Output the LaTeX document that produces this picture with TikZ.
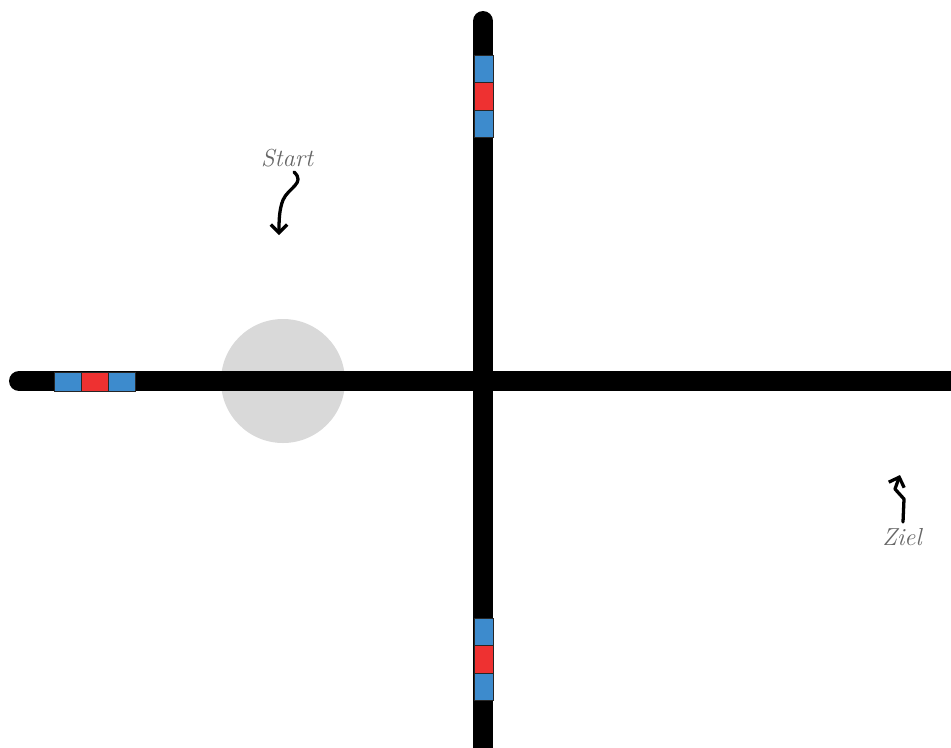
\documentclass[tikz,border=0pt]{standalone}
\usetikzlibrary{arrows.meta}
\definecolor{signalblue}{HTML}{3D8BCD}
\definecolor{signalred}{HTML}{EE3131}
\definecolor{spotgray}{HTML}{D9D9D9}
\tikzset{
	road/.style={line width=0.6cm, line cap=round},
	signalbox/.style={draw=black!85, line width=0.6pt},
	hint/.style={font=\fontsize{21}{23}\selectfont\itshape, text=black!60, inner sep=1pt},
	hintarrow/.style={line width=2.8pt, line cap=round, line join=round, -{Straight Barb[length=7pt,width=14pt]}}
}
\begin{document}
\begin{tikzpicture}[x=0.03cm, y=-0.03cm]
	\useasboundingbox (0,0) rectangle (951,747);
	\fill[spotgray] (283,381) circle(62);
	\begin{scope}
		\clip (0,0) rectangle (951,747);
		\draw[road] (19,381)--(965,381);
		\draw[road] (483,21)--(483,760);
	\end{scope}
	% signals on the roads
	\foreach \x/\c in {54/signalblue, 81/signalred, 108/signalblue}
		\draw[signalbox, fill=\c] (\x,372) rectangle ++(27.5,19);
	\foreach \y/\c in {55/signalblue, 82.5/signalred, 110/signalblue}
		\draw[signalbox, fill=\c] (474,\y) rectangle ++(19,27.5);
	\foreach \y/\c in {618/signalblue, 645.5/signalred, 673/signalblue}
		\draw[signalbox, fill=\c] (474,\y) rectangle ++(19,27.5);
	% labels
	\node[hint] (start) at (287,158) {Start};
	\node[hint] (ziel) at (902,537) {Ziel};
	\coordinate (startend) at (279,235);
	\coordinate (zielend) at (900,475);
	\draw[hintarrow] (294,172) .. controls (306,183) and (288,188) .. (283,200) .. controls (279,210) and (279,222) .. (startend);
	\draw[hintarrow] (903,522) -- (904,499) -- (895,489) -- (zielend);
\end{tikzpicture}
\end{document}
